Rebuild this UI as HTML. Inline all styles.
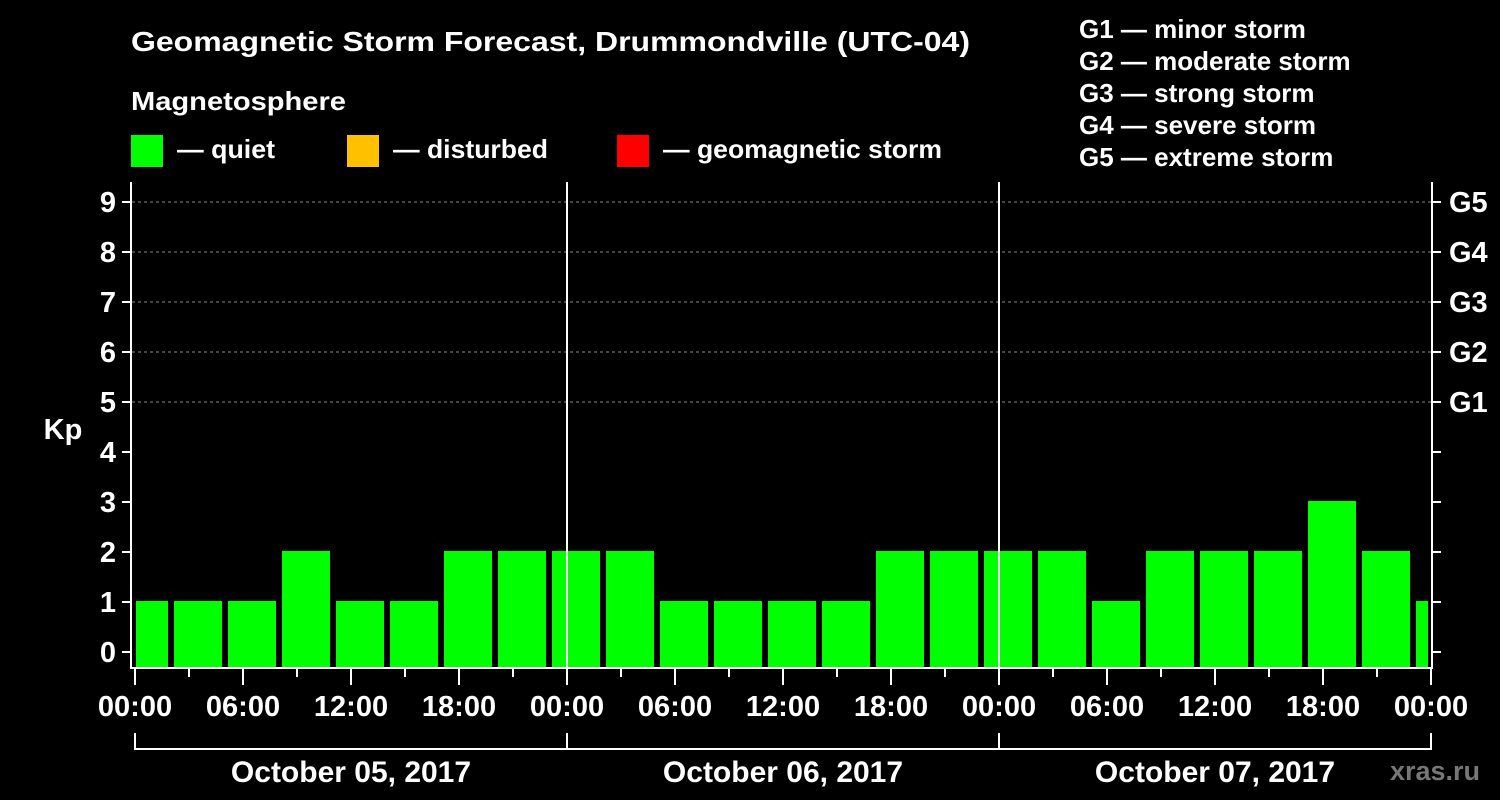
<!DOCTYPE html>
<html><head><meta charset="utf-8"><style>
html,body{margin:0;padding:0;background:#000;}
svg{display:block;font-family:"Liberation Sans",Arial,sans-serif;font-weight:bold;}
</style></head><body>
<svg width="1500" height="800" viewBox="0 0 1500 800">
<rect x="0" y="0" width="1500" height="800" fill="#000"/>
<text x="131" y="51" font-size="28" fill="#fff" textLength="839" lengthAdjust="spacingAndGlyphs">Geomagnetic Storm Forecast, Drummondville (UTC-04)</text>
<text x="131" y="110" font-size="26" fill="#fff" textLength="215" lengthAdjust="spacingAndGlyphs">Magnetosphere</text>
<g><rect x="131" y="135" width="32" height="32" fill="#00ff00"/><text x="177" y="158" font-size="26" fill="#fff" textLength="98" lengthAdjust="spacingAndGlyphs">— quiet</text></g>
<g><rect x="347" y="135" width="32" height="32" fill="#ffc000"/><text x="393" y="158" font-size="26" fill="#fff" textLength="155" lengthAdjust="spacingAndGlyphs">— disturbed</text></g>
<g><rect x="617" y="135" width="32" height="32" fill="#ff0000"/><text x="663" y="158" font-size="26" fill="#fff" textLength="279" lengthAdjust="spacingAndGlyphs">— geomagnetic storm</text></g>
<g font-size="26" fill="#fff">
<text x="1079" y="38">G1 — minor storm</text>
<text x="1079" y="70">G2 — moderate storm</text>
<text x="1079" y="102">G3 — strong storm</text>
<text x="1079" y="134">G4 — severe storm</text>
<text x="1079" y="166">G5 — extreme storm</text>
</g>
<text x="63" y="439" font-size="29" fill="#fff" text-anchor="middle">Kp</text>
<text x="1480" y="780" font-size="27" fill="#777" text-anchor="end">xras.ru</text>
<g id="grid"></g>
<g id="bars"></g>
<g id="axes"></g>
</svg>
<script>
const kpValues = [1,1,1,2,1,1,2,2,2,2,1,1,1,1,2,2,2,2,1,2,2,2,3,2,1];
const barStartHours = [0,2,5,8,11,14,17,20,23,26,29,32,35,38,41,44,47,50,53,56,59,62,65,68,71];
const barEndHours = [2,5,8,11,14,17,20,23,26,29,32,35,38,41,44,47,50,53,56,59,62,65,68,71,72];
const yTicks = [0,1,2,3,4,5,6,7,8,9];
const gLabels = ["G1","G2","G3","G4","G5"];
const gLevels = [5,6,7,8,9];
const xTickLabels = ["00:00","06:00","12:00","18:00","00:00","06:00","12:00","18:00","00:00","06:00","12:00","18:00","00:00"];
const dayLabels = ["October 05, 2017","October 06, 2017","October 07, 2017"];

const NS="http://www.w3.org/2000/svg";
const X0=135, PXH=18, Y0=652, PXK=50;
const x = h => X0 + h*PXH;
const y = k => Y0 - k*PXK;
function mk(tag, attrs, parent, text){
  const e=document.createElementNS(NS,tag);
  for(const k in attrs) e.setAttribute(k, attrs[k]);
  if(text!==undefined) e.textContent=text;
  parent.appendChild(e); return e;
}
const grid=document.getElementById('grid'), bars=document.getElementById('bars'), axes=document.getElementById('axes');
yTicks.forEach(k=>{ if(k>=5){
  const l=mk('line',{x1:132,x2:1432,y1:y(k),y2:y(k),stroke:'#888','stroke-width':1,'stroke-dasharray':'3,3'},grid);
  
  
}});
kpValues.forEach((v,i)=>{
  const s=barStartHours[i], e=barEndHours[i];
  const x1 = x(s) + (s===0?1:3), x2 = x(e) - 3;
  const r=mk('rect',{x:x1,y:y(v)-1,width:x2-x1,height:667-(y(v)-1),fill:'#00ff00'},bars);
  
  
});
[24,48].forEach(h=>{
  const l=mk('line',{x1:x(h),x2:x(h),y1:182,y2:668,stroke:'#fff','stroke-width':2},axes);
  
  
});
const f=mk('path',{d:'M131,182 V668 H1432 V182',fill:'none',stroke:'#fff','stroke-width':2},axes);


yTicks.forEach(k=>{
  mk('line',{x1:122,x2:131,y1:y(k),y2:y(k),stroke:'#fff','stroke-width':2},axes);
  mk('line',{x1:1432,x2:1441,y1:y(k),y2:y(k),stroke:'#fff','stroke-width':2},axes);
  const t=mk('text',{x:116,y:y(k)+10,'font-size':29,fill:'#fff','text-anchor':'end'},axes,String(k));
  
  
});
gLevels.forEach((k,i)=>{
  const t=mk('text',{x:1449,y:y(k)+10,'font-size':29,fill:'#fff'},axes,gLabels[i]);
  
  
});
for(let h=0;h<=72;h+=3){
  const major=h%6===0;
  mk('line',{x1:x(h),x2:x(h),y1:669,y2:major?685:677,stroke:'#fff','stroke-width':2},axes);
}
xTickLabels.forEach((lab,i)=>{
  const t=mk('text',{x:x(i*6),y:716,'font-size':29,fill:'#fff','text-anchor':'middle'},axes,lab);
  
  
});
mk('path',{d:`M${x(0)},733 V749 H${x(72)} V733 M${x(24)},733 V749 M${x(48)},733 V749`,fill:'none',stroke:'#fff','stroke-width':2},axes);
dayLabels.forEach((lab,i)=>{
  const t=mk('text',{x:x(i*24+12),y:782,'font-size':30,fill:'#fff','text-anchor':'middle'},axes,lab);
  
  
});
</script>
</body></html>
